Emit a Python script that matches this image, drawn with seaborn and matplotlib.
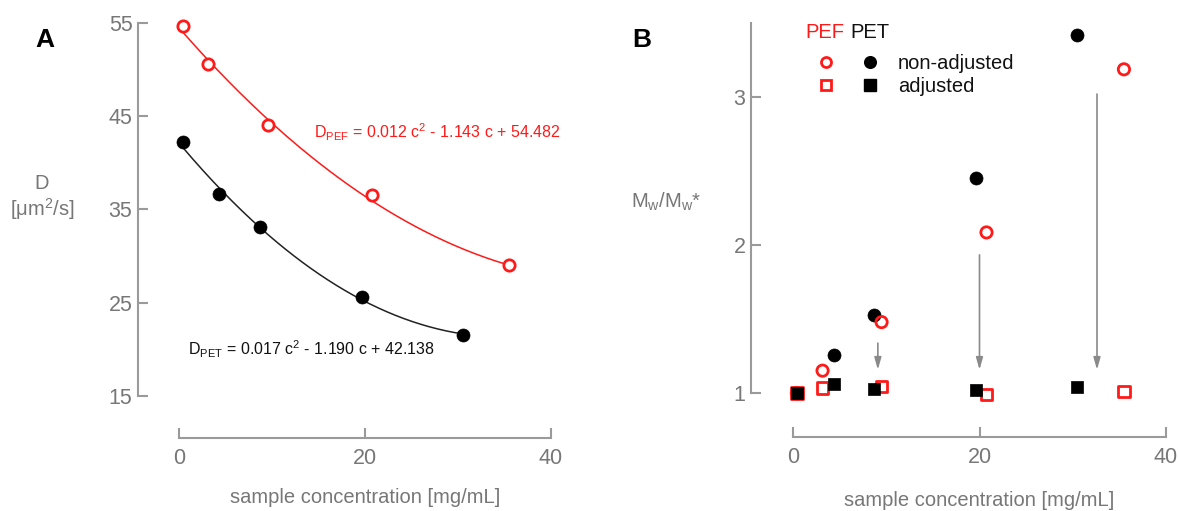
import numpy as np
import matplotlib
matplotlib.use("Agg")
import matplotlib.pyplot as plt
import seaborn as sns
from matplotlib.lines import Line2D
from matplotlib.legend_handler import HandlerTuple

# ---------------- data: panel A (diffusion coefficient) ----------------
conc_pef = [0.41, 3.16, 9.54, 20.76, 35.47]
D_pef = [54.64, 50.65, 44.06, 36.57, 29.01]
conc_pet = [0.41, 4.32, 8.71, 19.65, 30.50]
D_pet = [42.24, 36.64, 33.07, 25.66, 21.49]
fit_pef = [0.012, -1.143, 54.482]   # quadratic coefficients shown on chart
fit_pet = [0.017, -1.190, 42.138]
eq_pef = r"D$_{\mathregular{PEF}}$ = 0.012 c$^{\mathregular{2}}$ - 1.143 c + 54.482"
eq_pet = r"D$_{\mathregular{PET}}$ = 0.017 c$^{\mathregular{2}}$ - 1.190 c + 42.138"
yticks_A = [15, 25, 35, 45, 55]
xticks = [0, 20, 40]

# ---------------- data: panel B (Mw / Mw*) ----------------
mw_conc_pef = [0.41, 3.17, 9.50, 20.75, 35.49]
mw_pef_nonadj = [1.00, 1.151, 1.479, 2.085, 3.187]
mw_pef_adj = [1.00, 1.034, 1.045, 0.989, 1.011]
mw_conc_pet = [0.45, 4.36, 8.65, 19.60, 30.48]
mw_pet_nonadj = [1.00, 1.258, 1.528, 2.456, 3.418]
mw_pet_adj = [1.00, 1.061, 1.029, 1.018, 1.040]
arrow_x = [9.1, 20.0, 32.6]
arrow_from = [1.337, 1.933, 3.02]
arrow_to = [1.157, 1.157, 1.157]
yticks_B = [1, 2, 3]

# ---------------- style ----------------
sns.set_theme(style="ticks")
plt.rcParams['font.family'] = ['Liberation Sans', 'DejaVu Sans']
plt.rcParams['mathtext.fontset'] = 'custom'
plt.rcParams['mathtext.rm'] = 'Liberation Sans'
plt.rcParams['mathtext.it'] = 'Liberation Sans:italic'
plt.rcParams['mathtext.bf'] = 'Liberation Sans:bold'

W, H = 1179, 511
fig = plt.figure(figsize=(W / 100, H / 100), dpi=100)
fig.patch.set_facecolor('white')

SPINE = '#9a9a9a'
TXT = '#777777'
RED = '#ff1a1a'
FS = 14.5
FS_TICK = 15.5


def px_axes(x0, x1, ytop, ybot):
    return fig.add_axes([x0 / W, 1 - ybot / H, (x1 - x0) / W, (ybot - ytop) / H])


def ftext(x, y, s, **kw):
    return fig.text(x / W, 1 - y / H, s, **kw)


def style(ax, xb, yb, off_left, off_bottom):
    for s in ['top', 'right']:
        ax.spines[s].set_visible(False)
    ax.spines['left'].set_position(('outward', off_left * 0.72))
    ax.spines['bottom'].set_position(('outward', off_bottom * 0.72))
    ax.spines['left'].set_bounds(*yb)
    ax.spines['bottom'].set_bounds(*xb)
    for s in ['left', 'bottom']:
        ax.spines[s].set_color(SPINE)
        ax.spines[s].set_linewidth(1.5)
    ax.tick_params(direction='in', length=7.5, width=1.5, color=SPINE,
                   labelcolor=TXT, labelsize=FS_TICK)
    ax.tick_params(axis='x', pad=7)
    ax.tick_params(axis='y', pad=4)
    ax.set_facecolor('none')
    ax.set_xlabel('')
    ax.set_ylabel('')


# ---------------- panel A ----------------
axA = px_axes(179, 551, 23, 396)
axA.set_xlim(0, 40)
axA.set_ylim(15, 55)

grid_pef = np.linspace(conc_pef[0], conc_pef[-1], 200)
grid_pet = np.linspace(conc_pet[0], conc_pet[-1], 200)
sns.lineplot(x=grid_pef, y=np.polyval(fit_pef, grid_pef), color=RED, lw=1.1, ax=axA, sort=False)
sns.lineplot(x=grid_pet, y=np.polyval(fit_pet, grid_pet), color='#222222', lw=1.1, ax=axA, sort=False)
sns.scatterplot(x=conc_pef, y=D_pef, ax=axA, marker='o', s=66, color=RED,
                facecolor='white', edgecolor=RED, linewidth=2.0, zorder=5, clip_on=False)
sns.scatterplot(x=conc_pet, y=D_pet, ax=axA, marker='o', s=88, color='black',
                edgecolor='black', linewidth=0.5, zorder=5, clip_on=False)
axA.set_xticks(xticks)
axA.set_yticks(yticks_A)
style(axA, (0, 40), (15, 55), 41, 42)

ftext(314, 132, eq_pef, color=RED, fontsize=11.5, ha='left', va='center')
ftext(188, 349, eq_pet, color='#111111', fontsize=11.5, ha='left', va='center')

ftext(42, 183, 'D', color=TXT, fontsize=FS, ha='center', va='center')
ftext(42, 209, r'[μm$^{\mathregular{2}}$/s]', color=TXT, fontsize=FS, ha='center', va='center')
ftext(365, 497, 'sample concentration [mg/mL]', color=TXT, fontsize=FS, ha='center', va='center')
ftext(45, 40, 'A', color='black', fontsize=19, fontweight='bold', ha='center', va='center')

# ---------------- panel B ----------------
axB = px_axes(793, 1166, 23, 393)
axB.set_xlim(0, 40)
axB.set_ylim(1, 3.5)

for xa, y0, y1 in zip(arrow_x, arrow_from, arrow_to):
    axB.annotate('', xy=(xa, y1), xytext=(xa, y0),
                 arrowprops=dict(arrowstyle='-|>,head_length=0.6,head_width=0.17',
                                 mutation_scale=12, color='#8a8a8a', lw=1.2,
                                 shrinkA=0, shrinkB=0))

sns.scatterplot(x=mw_conc_pet, y=mw_pet_nonadj, ax=axB, marker='o', s=88, color='black',
                edgecolor='black', linewidth=0.5, zorder=4, clip_on=False)
sns.scatterplot(x=mw_conc_pef, y=mw_pef_nonadj, ax=axB, marker='o', s=66, color=RED,
                facecolor='none', edgecolor=RED, linewidth=2.0, zorder=5, clip_on=False)
sns.scatterplot(x=mw_conc_pef, y=mw_pef_adj, ax=axB, marker='s', s=70, color=RED,
                facecolor='none', edgecolor=RED, linewidth=2.0, zorder=5, clip_on=False)
sns.scatterplot(x=mw_conc_pet, y=mw_pet_adj, ax=axB, marker='s', s=78, color='black',
                edgecolor='black', linewidth=0.5, zorder=6, clip_on=False)
axB.set_xticks(xticks)
axB.set_yticks(yticks_B)
style(axB, (0, 40), (1, 3.5), 42, 44)

ftext(666, 202, r'M$_{\mathregular{w}}$/M$_{\mathregular{w}}$*', color=TXT, fontsize=FS,
      ha='center', va='center')
ftext(979, 500, 'sample concentration [mg/mL]', color=TXT, fontsize=FS, ha='center', va='center')
ftext(642, 40, 'B', color='black', fontsize=19, fontweight='bold', ha='center', va='center')

# legend header
ftext(805, 32, 'PEF', color=RED, fontsize=FS, ha='left', va='center')
ftext(850, 32, 'PET', color='#111111', fontsize=FS, ha='left', va='center')

h_pef_c = Line2D([], [], ls='', marker='o', ms=7.2, mfc='none', mec=RED, mew=2.0)
h_pet_c = Line2D([], [], ls='', marker='o', ms=8.4, mfc='black', mec='black')
h_pef_s = Line2D([], [], ls='', marker='s', ms=7.0, mfc='none', mec=RED, mew=2.0)
h_pet_s = Line2D([], [], ls='', marker='s', ms=8.0, mfc='black', mec='black')
fs_px = FS / 72 * 100
leg = axB.legend([(h_pef_c, h_pet_c), (h_pef_s, h_pet_s)], ['non-adjusted', 'adjusted'],
                 handler_map={tuple: HandlerTuple(ndivide=None, pad=0)},
                 loc='upper left', bbox_to_anchor=(804 / W, 1 - 54 / H),
                 bbox_transform=fig.transFigure, frameon=False, fontsize=FS,
                 handlelength=88 / fs_px, handletextpad=0.3, borderpad=0,
                 borderaxespad=0, labelspacing=0.2, numpoints=1)
for t in leg.get_texts():
    t.set_color('#111111')

fig.savefig('out.png', dpi=100, facecolor='white')
